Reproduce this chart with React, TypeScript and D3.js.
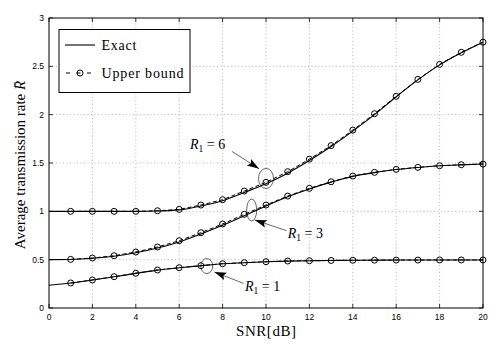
import React, { useEffect } from 'react';
import * as d3 from 'd3';

// SNR grid (dB)
const snrExact = d3.range(0, 21);
const snrBound = d3.range(1, 21);

// Exact average rate, SNR 0..20
const exactR6 = [1.0, 1.0, 1.0, 1.0, 1.0, 1.003, 1.015, 1.055, 1.11, 1.195, 1.285, 1.395, 1.525, 1.67, 1.83, 2.0, 2.185, 2.36, 2.515, 2.64, 2.75];
const exactR3 = [0.5, 0.502, 0.514, 0.535, 0.571, 0.62, 0.683, 0.765, 0.855, 0.955, 1.055, 1.15, 1.232, 1.302, 1.362, 1.4, 1.432, 1.454, 1.471, 1.481, 1.489];
const exactR1 = [0.235, 0.258, 0.289, 0.323, 0.358, 0.392, 0.416, 0.437, 0.457, 0.468, 0.478, 0.485, 0.489, 0.492, 0.494, 0.495, 0.496, 0.496, 0.497, 0.497, 0.497];

// Upper bound, SNR 1..20
const boundR6 = [1.0, 1.0, 1.0, 1.0, 1.006, 1.02, 1.065, 1.12, 1.21, 1.3, 1.41, 1.54, 1.68, 1.84, 2.01, 2.19, 2.365, 2.52, 2.645, 2.75];
const boundR3 = [0.503, 0.517, 0.541, 0.579, 0.631, 0.696, 0.779, 0.869, 0.969, 1.065, 1.158, 1.238, 1.306, 1.365, 1.403, 1.434, 1.455, 1.472, 1.482, 1.489];
const boundR1 = [0.259, 0.29, 0.324, 0.359, 0.393, 0.417, 0.438, 0.458, 0.469, 0.479, 0.486, 0.489, 0.492, 0.494, 0.495, 0.496, 0.496, 0.497, 0.497, 0.497];

const xTicks = [0, 2, 4, 6, 8, 10, 12, 14, 16, 18, 20];
const yTicks = [0, 0.5, 1, 1.5, 2, 2.5, 3];

// annotation callouts in data units
const callouts = [
  { r1: '6', ex: 10.0, ey: 1.34, rx: 7.5, ry: 10, from: [8.43, 1.62], to: [9.68, 1.44], tx: 6.5, ty: 1.64 },
  { r1: '3', ex: 9.34, ey: 1.013, rx: 5, ry: 11, from: [10.95, 0.8], to: [9.48, 0.91], tx: 11.0, ty: 0.72 },
  { r1: '1', ex: 7.27, ey: 0.434, rx: 6, ry: 7.5, from: [8.96, 0.255], to: [7.62, 0.372], tx: 9.03, ty: 0.175 },
];

const W = 498;
const H = 346;
const margin = { top: 18, right: 15, bottom: 38, left: 49 };
const serif = "'Liberation Serif', 'Times New Roman', serif";
const sans = "'Liberation Sans', Arial, sans-serif";

const App = () => {
  useEffect(() => {
    document.body.style.margin = '0';
  }, []);

  const x = d3.scaleLinear().domain([0, 20]).range([margin.left, W - margin.right]);
  const y = d3.scaleLinear().domain([0, 3]).range([H - margin.bottom, margin.top]);

  const exactLine = d3.line<number>().x((d, i) => x(snrExact[i])).y(d => y(d)).curve(d3.curveMonotoneX);
  const boundLine = d3.line<number>().x((d, i) => x(snrBound[i])).y(d => y(d));

  const exacts = [exactR6, exactR3, exactR1];
  const bounds = [boundR6, boundR3, boundR1];

  const x0 = x(0), x1 = x(20), y0 = y(0), y1 = y(3);

  return (
    <svg width={W} height={H} style={{ display: 'block', background: '#fff' }}>
      <defs>
        <marker id="arr" viewBox="0 0 10 10" refX="10" refY="5" markerWidth="12" markerHeight="12" markerUnits="userSpaceOnUse" orient="auto">
          <path d="M0,1.8 L10,5 L0,8.2 L2,5 z" fill="#000" />
        </marker>
      </defs>
      <rect x={0} y={0} width={W} height={H} fill="#fff" />

      {/* grid */}
      <g stroke="#9a9a9a" strokeWidth={0.7} strokeDasharray="1,2.5">
        {xTicks.slice(1, -1).map(t => (
          <line key={'gx' + t} x1={x(t)} x2={x(t)} y1={y0} y2={y1} />
        ))}
        {yTicks.slice(1, -1).map(t => (
          <line key={'gy' + t} x1={x0} x2={x1} y1={y(t)} y2={y(t)} />
        ))}
      </g>

      {/* ticks inward on all sides */}
      <g stroke="#000" strokeWidth={0.8}>
        {xTicks.map(t => (
          <g key={'tx' + t}>
            <line x1={x(t)} x2={x(t)} y1={y0} y2={y0 - 4} />
            <line x1={x(t)} x2={x(t)} y1={y1} y2={y1 + 4} />
          </g>
        ))}
        {yTicks.map(t => (
          <g key={'ty' + t}>
            <line x1={x0} x2={x0 + 4} y1={y(t)} y2={y(t)} />
            <line x1={x1} x2={x1 - 4} y1={y(t)} y2={y(t)} />
          </g>
        ))}
      </g>

      {/* curves */}
      <g fill="none" stroke="#000">
        {exacts.map((s, i) => (
          <path key={'e' + i} d={exactLine(s) || ''} strokeWidth={1.1} />
        ))}
        {bounds.map((s, i) => (
          <path key={'b' + i} d={boundLine(s) || ''} strokeWidth={1} strokeDasharray="4,2.5" />
        ))}
        {bounds.map((s, i) =>
          s.map((v, j) => (
            <circle key={'m' + i + '-' + j} cx={x(snrBound[j])} cy={y(v)} r={3} strokeWidth={1} />
          ))
        )}
      </g>

      {/* frame */}
      <rect x={x0} y={y1} width={x1 - x0} height={y0 - y1} fill="none" stroke="#000" strokeWidth={1} />

      {/* tick labels */}
      <g fontFamily={sans} fontSize={8.5} fill="#000">
        {xTicks.map(t => (
          <text key={'lx' + t} x={x(t)} y={y0 + 12} textAnchor="middle">{t}</text>
        ))}
        {yTicks.map(t => (
          <text key={'ly' + t} x={x0 - 5} y={y(t) + 3} textAnchor="end">{t}</text>
        ))}
      </g>

      {/* axis titles */}
      <text x={(x0 + x1) / 2} y={336} textAnchor="middle" fontFamily={serif} fontSize={15} textLength={60}>SNR[dB]</text>
      <text
        transform={`translate(25,${(y0 + y1) / 2 + 2}) rotate(-90)`}
        textAnchor="middle"
        fontFamily={serif}
        fontSize={15}
      >
        Average transmission rate <tspan fontStyle="italic">{'R\u0304'}</tspan>
      </text>

      {/* callouts */}
      {callouts.map(c => (
        <g key={'c' + c.r1}>
          <ellipse cx={x(c.ex)} cy={y(c.ey)} rx={c.rx} ry={c.ry} fill="none" stroke="#000" strokeWidth={0.6} />
          <line x1={x(c.from[0])} y1={y(c.from[1])} x2={x(c.to[0])} y2={y(c.to[1])} stroke="#000" strokeWidth={0.6} markerEnd="url(#arr)" />
          <text x={x(c.tx)} y={y(c.ty)} fontFamily={serif} fontSize={14}>
            <tspan fontStyle="italic">R</tspan>
            <tspan fontSize={9.5} dy={3}>1</tspan>
            <tspan dy={-3}>{' = ' + c.r1}</tspan>
          </text>
        </g>
      ))}

      {/* legend */}
      <g>
        <rect x={59} y={29.5} width={131} height={63} fill="#fff" stroke="#000" strokeWidth={1} />
        <line x1={65} x2={95} y1={45} y2={45} stroke="#000" strokeWidth={1.1} />
        <text x={101.5} y={50} fontFamily={serif} fontSize={14} textLength={35}>Exact</text>
        <line x1={65} x2={95} y1={73} y2={73} stroke="#000" strokeWidth={1} strokeDasharray="4,6.5" strokeDashoffset={-1} />
        <circle cx={80} cy={73} r={3} fill="none" stroke="#000" strokeWidth={1} />
        <text x={101.5} y={78} fontFamily={serif} fontSize={14} textLength={82}>Upper bound</text>
      </g>
    </svg>
  );
};

export default App;
